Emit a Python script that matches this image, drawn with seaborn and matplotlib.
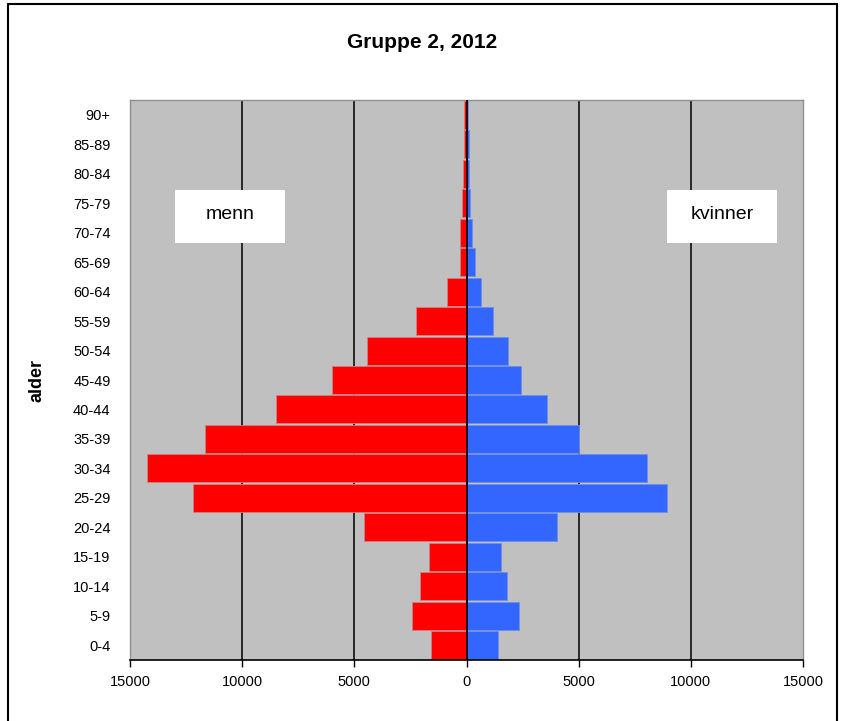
import pandas as pd
import seaborn as sns
import matplotlib.pyplot as plt
from matplotlib.patches import Rectangle
from matplotlib.lines import Line2D

# Age groups (top to bottom) and values
ages = ["90+", "85-89", "80-84", "75-79", "70-74", "65-69", "60-64", "55-59",
        "50-54", "45-49", "40-44", "35-39", "30-34", "25-29", "20-24",
        "15-19", "10-14", "5-9", "0-4"]
menn = [120, 120, 140, 180, 300, 300, 850, 2270, 4440, 6000, 8470, 11650,
        14240, 12190, 4580, 1670, 2070, 2410, 1590]
kvinner = [80, 100, 120, 160, 240, 380, 650, 1200, 1870, 2410, 3570, 5020,
           8050, 8920, 4040, 1530, 1810, 2350, 1390]
xticks = [-15000, -10000, -5000, 0, 5000, 10000, 15000]

df = pd.DataFrame({"alder": ages, "menn": [-v for v in menn], "kvinner": kvinner})

sns.set_style("white")
plt.rcParams["font.family"] = ["Liberation Sans", "DejaVu Sans"]
for key in ["text.color", "axes.labelcolor", "xtick.color", "ytick.color"]:
    plt.rcParams[key] = "black"

fig = plt.figure(figsize=(8.44, 7.21), dpi=100)
ax = fig.add_axes([130 / 844, 1 - 660 / 721, 673 / 844, 560 / 721])
ax.set_facecolor("#c0c0c0")

sns.barplot(data=df, x="menn", y="alder", order=ages, color="#ff0000",
            width=0.95, edgecolor="#d08080", linewidth=0.6, saturation=1, ax=ax)
sns.barplot(data=df, x="kvinner", y="alder", order=ages, color="#3366ff",
            width=0.95, edgecolor="#7090e0", linewidth=0.6, saturation=1, ax=ax)

# vertical gridlines
for x in xticks[1:-1]:
    ax.axvline(x, color="black", lw=1.1, zorder=0.5)
ax.axvline(0, color="black", lw=1.2, zorder=3)

ax.set_xlim(-15000, 15000)
ax.set_xticks(xticks)
ax.set_xticklabels([str(abs(t)) for t in xticks], fontsize=10.5)
ax.tick_params(axis="x", direction="out", length=5, width=1, color="black",
               bottom=True, pad=6)
ax.tick_params(axis="y", length=0, labelsize=10.5, pad=14)
ax.set_xlabel("")
ax.set_ylabel("alder", fontsize=13, fontweight="bold", labelpad=20)

for side in ["top", "left", "right"]:
    ax.spines[side].set_color("#909090")
    ax.spines[side].set_linewidth(1)
ax.spines["bottom"].set_color("black")
ax.spines["bottom"].set_linewidth(1.2)

# label boxes
for cx, label in [(0.149, "menn"), (0.880, "kvinner")]:
    ax.add_patch(Rectangle((cx - 0.082, 0.745), 0.164, 0.095,
                           transform=ax.transAxes, facecolor="white",
                           edgecolor="none", zorder=4))
    ax.text(cx, 0.795, label, transform=ax.transAxes, ha="center",
            va="center", fontsize=14, zorder=5)

fig.suptitle("Gruppe 2, 2012", y=1 - 43 / 721, va="center",
             fontsize=15, fontweight="bold")

# outer frame
for xs, ys in [([8 / 844, 8 / 844], [0, 1 - 4 / 721]),
               ([8 / 844, 837 / 844], [1 - 4 / 721, 1 - 4 / 721]),
               ([837 / 844, 837 / 844], [0, 1 - 4 / 721])]:
    fig.add_artist(Line2D(xs, ys, color="black", lw=1.5))

fig.savefig("out.png", dpi=100)
